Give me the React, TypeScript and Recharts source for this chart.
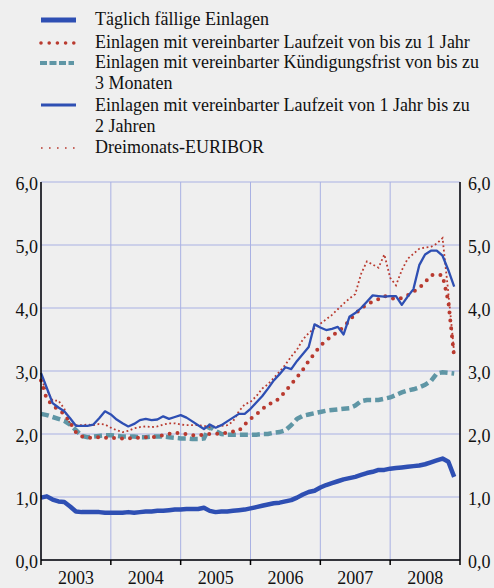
import { LineChart, Line, XAxis, YAxis, CartesianGrid } from 'recharts';

// monthly values Jan 2003 .. Dec 2008, in % p.a.
const months = Array.from({ length: 72 }, (_, i) => i);

const daily = [
  0.99, 1.01, 0.96, 0.93, 0.92, 0.85, 0.77, 0.76, 0.76, 0.76, 0.76, 0.75,
  0.75, 0.75, 0.75, 0.76, 0.75, 0.76, 0.77, 0.77, 0.78, 0.78, 0.79, 0.80,
  0.80, 0.81, 0.81, 0.81, 0.83, 0.78, 0.76, 0.77, 0.77, 0.78, 0.79, 0.80,
  0.82, 0.84, 0.86, 0.88, 0.90, 0.91, 0.93, 0.95, 0.99, 1.04, 1.08, 1.10,
  1.15, 1.19, 1.22, 1.25, 1.28, 1.30, 1.32, 1.35, 1.38, 1.40, 1.43, 1.43,
  1.45, 1.46, 1.47, 1.48, 1.49, 1.50, 1.52, 1.55, 1.58, 1.61, 1.56, 1.32,
];

const upTo1y = [
  2.85, 2.55, 2.46, 2.38, 2.32, 2.18, 2.03, 1.96, 1.94, 1.94, 1.95, 1.94,
  1.94, 1.93, 1.93, 1.93, 1.94, 1.94, 1.95, 1.95, 1.96, 1.98, 2.00, 2.02,
  2.01, 2.00, 1.98, 1.98, 1.99, 2.00, 2.00, 2.01, 2.02, 2.04, 2.05, 2.15,
  2.24, 2.31, 2.39, 2.47, 2.50, 2.57, 2.68, 2.79, 2.90, 3.02, 3.16, 3.28,
  3.40, 3.48, 3.56, 3.62, 3.70, 3.80, 3.91, 3.99, 4.06, 4.10, 4.14, 4.19,
  4.16, 4.14, 4.16, 4.20, 4.26, 4.32, 4.41, 4.52, 4.53, 4.52, 4.10, 3.22,
];

const notice3m = [
  2.32, 2.30, 2.27, 2.24, 2.21, 2.15, 2.06, 1.97, 1.95, 1.96, 1.97, 1.98,
  1.98, 1.97, 1.96, 1.96, 1.96, 1.95, 1.95, 1.96, 1.96, 1.96, 1.95, 1.94,
  1.93, 1.93, 1.92, 1.92, 1.93, 2.12, 2.05, 2.00, 1.99, 1.99, 1.99, 1.99,
  1.99, 1.99, 2.00, 2.00, 2.02, 2.03, 2.06, 2.14, 2.24, 2.29, 2.31, 2.33,
  2.35, 2.37, 2.38, 2.39, 2.40, 2.41, 2.45, 2.52, 2.54, 2.54, 2.54, 2.56,
  2.58, 2.62, 2.66, 2.69, 2.71, 2.74, 2.78, 2.84, 2.96, 2.98, 2.97, 2.96,
];

const from1to2y = [
  2.97, 2.73, 2.49, 2.42, 2.36, 2.25, 2.13, 2.13, 2.13, 2.15, 2.25, 2.36,
  2.31, 2.23, 2.17, 2.12, 2.16, 2.22, 2.24, 2.22, 2.23, 2.28, 2.24, 2.27,
  2.30, 2.26, 2.20, 2.14, 2.08, 2.15, 2.10, 2.14, 2.20, 2.26, 2.32, 2.32,
  2.40, 2.50, 2.60, 2.72, 2.85, 2.95, 3.06, 3.03, 3.16, 3.27, 3.38, 3.74,
  3.69, 3.65, 3.67, 3.70, 3.58, 3.86, 3.92, 4.00, 4.10, 4.20, 4.19, 4.18,
  4.19, 4.19, 4.05, 4.18, 4.30, 4.68, 4.85, 4.91, 4.91, 4.83, 4.60, 4.34,
];

const euribor3m = [
  2.86, 2.70, 2.53, 2.53, 2.40, 2.16, 2.14, 2.14, 2.15, 2.14, 2.16, 2.15,
  2.10, 2.06, 2.03, 2.05, 2.09, 2.11, 2.12, 2.11, 2.12, 2.15, 2.17, 2.17,
  2.15, 2.14, 2.14, 2.14, 2.13, 2.11, 2.12, 2.13, 2.14, 2.20, 2.36, 2.47,
  2.51, 2.60, 2.72, 2.79, 2.89, 2.99, 3.10, 3.23, 3.34, 3.50, 3.60, 3.68,
  3.75, 3.82, 3.89, 3.98, 4.07, 4.15, 4.22, 4.54, 4.74, 4.69, 4.64, 4.85,
  4.48, 4.36, 4.60, 4.78, 4.86, 4.94, 4.96, 4.97, 5.02, 5.11, 4.24, 3.29,
];

const yearLabels = ['2003', '2004', '2005', '2006', '2007', '2008'];
const xTicks = [0, 12, 24, 36, 48, 60, 72];
const yTicks = [0, 1, 2, 3, 4, 5, 6];

const data = months.map((m, i) => ({
  m,
  daily: daily[i],
  upTo1y: upTo1y[i],
  notice3m: notice3m[i],
  from1to2y: from1to2y[i],
  euribor3m: euribor3m[i],
}));

const BLUE = '#2e4fb3';
const RED = '#b93a2f';
const TEAL = '#5f96a5';
const GRID = '#a9b1e3';
const FONT = '"Liberation Serif", "Times New Roman", serif';

const legendItems = [
  { key: 'daily', lines: ['Täglich fällige Einlagen'], top: 9 },
  { key: 'upTo1y', lines: ['Einlagen mit vereinbarter Laufzeit von bis zu 1 Jahr'], top: 32 },
  { key: 'notice3m', lines: ['Einlagen mit vereinbarter Kündigungsfrist von bis zu', '3 Monaten'], top: 52 },
  { key: 'from1to2y', lines: ['Einlagen mit vereinbarter Laufzeit von 1 Jahr bis zu', '2 Jahren'], top: 94.5 },
  { key: 'euribor3m', lines: ['Dreimonats-EURIBOR'], top: 137 },
];

function LegendIcon({ kind }: { kind: string }) {
  let mark;
  if (kind === 'daily') mark = <line x1={0} y1={5} x2={35} y2={5} stroke={BLUE} strokeWidth={5} />;
  else if (kind === 'upTo1y')
    mark = <line x1={0} y1={5} x2={34} y2={5} stroke={RED} strokeWidth={3.6} strokeDasharray="0 8.2" strokeLinecap="round" />;
  else if (kind === 'notice3m')
    mark = <line x1={-1} y1={5} x2={33} y2={5} stroke={TEAL} strokeWidth={4} strokeDasharray="7 2.5" />;
  else if (kind === 'from1to2y') mark = <line x1={0} y1={5} x2={35} y2={5} stroke={BLUE} strokeWidth={3} />;
  else mark = <line x1={0} y1={5} x2={35} y2={5} stroke={RED} strokeWidth={1.6} strokeDasharray="1.6 6.4" />;
  return (
    <svg width={40} height={10} style={{ position: 'absolute', left: 41, top: 5.5, overflow: 'visible' }}>
      {mark}
    </svg>
  );
}

function YearTick(props: any) {
  const { x, y, index } = props;
  const label = yearLabels[index];
  if (!label) return <g />;
  return (
    <text x={x + 35} y={y + 17} textAnchor="middle" fill="#111" fontSize={18} fontFamily={FONT}>
      {label}
    </text>
  );
}

const fmt = (v: number) => v.toFixed(1).replace('.', ',');

export default function App() {
  return (
    <div
      style={{
        position: 'fixed',
        left: 0,
        top: 0,
        width: 494,
        height: 588,
        background: '#efefef',
        fontFamily: FONT,
        color: '#111',
        overflow: 'hidden',
      }}
    >
      {legendItems.map((it) => (
        <div key={it.key} style={{ position: 'absolute', left: 0, top: it.top, width: 494 }}>
          <LegendIcon kind={it.key} />
          <div style={{ marginLeft: 95, fontSize: 18, lineHeight: '21px', whiteSpace: 'nowrap' }}>
            {it.lines.map((l, j) => (
              <div key={j}>{l}</div>
            ))}
          </div>
        </div>
      ))}
      <div style={{ position: 'absolute', left: 0, top: 0 }}>
        <LineChart width={494} height={588} data={data} margin={{ top: 182, right: 0, bottom: 0, left: 0 }}>
          <CartesianGrid yAxisId="l" stroke={GRID} strokeWidth={1} />
          <XAxis
            dataKey="m"
            type="number"
            domain={[0, 72]}
            ticks={xTicks}
            height={28}
            axisLine={{ stroke: '#000', strokeWidth: 1.5 }}
            tickLine={{ stroke: '#000', strokeWidth: 1.5 }}
            tickSize={5}
            tickMargin={2}
            tick={<YearTick />}
            interval={0}
          />
          <YAxis
            yAxisId="l"
            domain={[0, 6]}
            ticks={yTicks}
            width={41}
            axisLine={{ stroke: '#000', strokeWidth: 1.5 }}
            tickLine={false}
            tickSize={0}
            tickMargin={3}
            tickFormatter={fmt}
            tick={{ fill: '#111', fontSize: 18, fontFamily: FONT, dy: 2 }}
            interval={0}
          />
          <YAxis
            yAxisId="r"
            orientation="right"
            domain={[0, 6]}
            ticks={yTicks}
            width={34}
            allowDataOverflow
            axisLine={{ stroke: '#000', strokeWidth: 1.5 }}
            tickLine={false}
            tickSize={0}
            tickMargin={8}
            tickFormatter={fmt}
            tick={{ fill: '#111', fontSize: 18, fontFamily: FONT, dy: 2 }}
            interval={0}
          />
          <Line
            yAxisId="l"
            dataKey="notice3m"
            stroke={TEAL}
            strokeWidth={4.5}
            strokeDasharray="8 4"
            dot={false}
            activeDot={false}
            isAnimationActive={false}
          />
          <Line
            yAxisId="l"
            dataKey="euribor3m"
            stroke={RED}
            strokeWidth={1.8}
            strokeDasharray="1.8 2.6"
            dot={false}
            activeDot={false}
            isAnimationActive={false}
          />
          <Line
            yAxisId="l"
            dataKey="upTo1y"
            stroke={RED}
            strokeWidth={4}
            strokeDasharray="0 8"
            strokeLinecap="round"
            dot={false}
            activeDot={false}
            isAnimationActive={false}
          />
          <Line
            yAxisId="l"
            dataKey="from1to2y"
            stroke={BLUE}
            strokeWidth={2.3}
            strokeLinejoin="round"
            dot={false}
            activeDot={false}
            isAnimationActive={false}
          />
          <Line
            yAxisId="l"
            dataKey="daily"
            stroke={BLUE}
            strokeWidth={4.5}
            strokeLinejoin="round"
            dot={false}
            activeDot={false}
            isAnimationActive={false}
          />
        </LineChart>
      </div>
    </div>
  );
}
